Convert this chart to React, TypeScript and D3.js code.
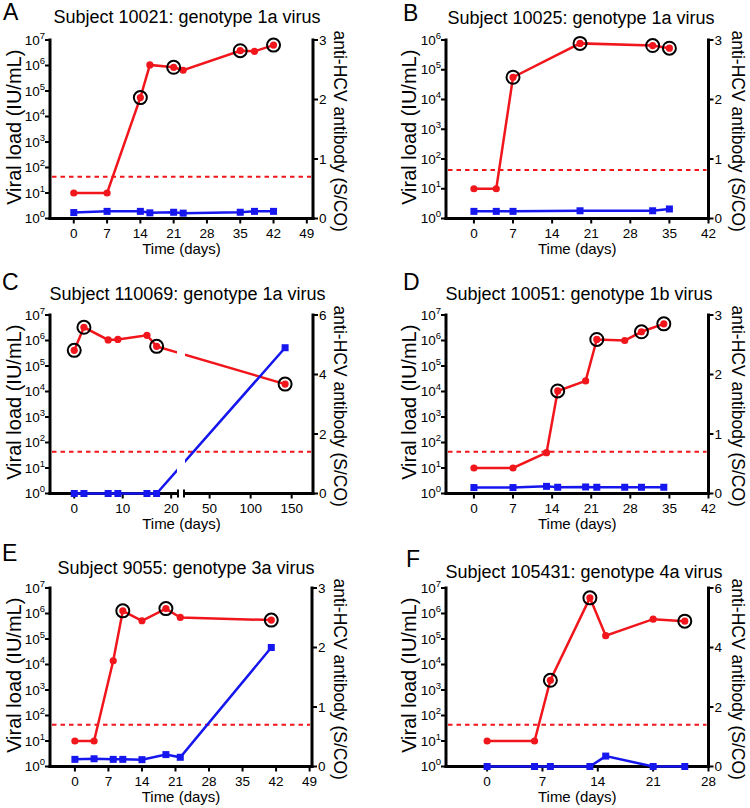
import React, { useEffect, useRef } from 'react';
import * as d3 from 'd3';

// values: days, viral load (IU/mL), anti-HCV (S/CO)
const daysA = [0, 7, 14, 16, 21, 23, 35, 38, 42];
const viralA = [10, 10, 5.5e4, 1.05e6, 8.5e5, 6.5e5, 3.8e6, 3.6e6, 6.3e6];
const circledA = [14, 21, 35, 42];
const antibodyA = [0.1, 0.12, 0.12, 0.095, 0.105, 0.09, 0.105, 0.12, 0.12];

const daysB = [0, 4, 7, 19, 32, 35];
const viralB = [10, 10, 5.6e4, 7.7e5, 6.5e5, 5.3e5];
const circledB = [7, 19, 32, 35];
const antibodyB = [0.12, 0.12, 0.12, 0.13, 0.13, 0.16];

const daysC = [0, 2, 7, 9, 15, 17, 142];
const viralC = [4.1e5, 3.3e6, 1.05e6, 1.1e6, 1.6e6, 5.9e5, 1.95e4];
const circledC = [0, 2, 17, 142];
const antibodyC = [0, 0, 0, 0, 0, 0, 4.9];

const daysD = [0, 7, 13, 15, 20, 22, 27, 30, 34];
const viralD = [10, 10, 40, 1.05e4, 2.6e4, 1.1e6, 1.0e6, 2.2e6, 4.5e6];
const circledD = [15, 22, 30, 34];
const antibodyD = [0.1, 0.1, 0.12, 0.105, 0.11, 0.105, 0.105, 0.105, 0.105];

const daysE = [0, 4, 8, 10, 14, 19, 22, 41];
const viralE = [10, 10, 1.4e4, 1.27e6, 5.2e5, 1.56e6, 7e5, 5.5e5];
const circledE = [10, 19, 41];
const antibodyE = [0.12, 0.13, 0.12, 0.12, 0.115, 0.2, 0.155, 2.0];

const daysF = [0, 6, 8, 13, 15, 21, 25];
const viralF = [10, 10, 2.4e3, 4.1e6, 1.35e5, 6e5, 5e5];
const circledF = [8, 13, 25];
const antibodyF = [0, 0, 0, 0, 0.35, 0, 0];

const xTicks49 = [0, 7, 14, 21, 28, 35, 42, 49];
const xTicks42 = [0, 7, 14, 21, 28, 35, 42];
const xTicks28 = [0, 7, 14, 21, 28];
const xTicksCLeft = [0, 10, 20];
const xTicksCRight = [50, 100, 150];
const abTicks3 = [0, 1, 2, 3];
const abTicks6 = [0, 2, 4, 6];
const detectionLimit = 43;

const FONT = 'Liberation Sans, Arial, Helvetica, sans-serif';
const RED = '#f0161c';
const BLUE = '#1616ee';

interface Segment { domain: [number, number]; range: [number, number]; ticks: number[] }
interface Panel {
  letter: string; title: string;
  segments: Segment[]; top: number; bottom: number;
  vlExpMax: number; abMax: number; abTicks: number[];
  days: number[]; viral: number[]; circled: number[]; antibody: number[];
  letterX: number; letterY: number; titleX: number; titleY: number;
  yLabelX: number; rLabelX: number;
}

const panels: Panel[] = [
  { letter: 'A', title: 'Subject 10021: genotype 1a virus',
    segments: [{ domain: [-5, 50.3], range: [50, 313], ticks: xTicks49 }], top: 40, bottom: 218.5,
    vlExpMax: 7, abMax: 3, abTicks: abTicks3,
    days: daysA, viral: viralA, circled: circledA, antibody: antibodyA,
    letterX: 3, letterY: 20, titleX: 187, titleY: 23, yLabelX: 21, rLabelX: 334 },
  { letter: 'B', title: 'Subject 10025: genotype 1a virus',
    segments: [{ domain: [-5, 42], range: [446, 708.5], ticks: xTicks42 }], top: 40, bottom: 218.5,
    vlExpMax: 6, abMax: 3, abTicks: abTicks3,
    days: daysB, viral: viralB, circled: circledB, antibody: antibodyB,
    letterX: 403, letterY: 21, titleX: 581, titleY: 24, yLabelX: 416, rLabelX: 732 },
  { letter: 'C', title: 'Subject 110069: genotype 1a virus',
    segments: [
      { domain: [-5, 21.2], range: [50, 177], ticks: xTicksCLeft },
      { domain: [20, 176], range: [185, 313], ticks: xTicksCRight },
    ], top: 315, bottom: 493.5,
    vlExpMax: 7, abMax: 6, abTicks: abTicks6,
    days: daysC, viral: viralC, circled: circledC, antibody: antibodyC,
    letterX: 2, letterY: 290, titleX: 187.5, titleY: 300, yLabelX: 21, rLabelX: 334 },
  { letter: 'D', title: 'Subject 10051: genotype 1b virus',
    segments: [{ domain: [-5, 42], range: [446, 708.5], ticks: xTicks42 }], top: 315, bottom: 493.5,
    vlExpMax: 7, abMax: 3, abTicks: abTicks3,
    days: daysD, viral: viralD, circled: circledD, antibody: antibodyD,
    letterX: 403, letterY: 290, titleX: 579, titleY: 299.5, yLabelX: 416, rLabelX: 732 },
  { letter: 'E', title: 'Subject 9055: genotype 3a virus',
    segments: [{ domain: [-5.2, 49.5], range: [50, 312], ticks: xTicks49 }], top: 588, bottom: 766.5,
    vlExpMax: 7, abMax: 3, abTicks: abTicks3,
    days: daysE, viral: viralE, circled: circledE, antibody: antibodyE,
    letterX: 2, letterY: 561, titleX: 186, titleY: 573.5, yLabelX: 21, rLabelX: 334 },
  { letter: 'F', title: 'Subject 105431: genotype 4a virus',
    segments: [{ domain: [-5.2, 28], range: [446, 708.5], ticks: xTicks28 }], top: 588, bottom: 766.5,
    vlExpMax: 7, abMax: 6, abTicks: abTicks6,
    days: daysF, viral: viralF, circled: circledF, antibody: antibodyF,
    letterX: 406, letterY: 567, titleX: 584, titleY: 578, yLabelX: 416, rLabelX: 732 },
];

function drawPanel(svg: d3.Selection<SVGSVGElement, unknown, null, undefined>, p: Panel) {
  const g = svg.append('g').attr('font-family', FONT).attr('fill', '#000');
  const segs = p.segments;
  const xs = segs.map(s => d3.scaleLinear().domain(s.domain).range(s.range));
  const xOf = (d: number) => xs[segs.length > 1 && d > segs[0].domain[1] ? 1 : 0](d);
  const y = d3.scaleLog().domain([1, Math.pow(10, p.vlExpMax)]).range([p.bottom, p.top]);
  const yR = d3.scaleLinear().domain([0, p.abMax]).range([p.bottom, p.top]);
  const left = segs[0].range[0];
  const right = segs[segs.length - 1].range[1];
  const midY = (p.top + p.bottom) / 2;

  // panel letter + title
  g.append('text').attr('x', p.letterX).attr('y', p.letterY).attr('font-size', 23).text(p.letter);
  g.append('text').attr('x', p.titleX).attr('y', p.titleY).attr('text-anchor', 'middle')
    .attr('font-size', 18).text(p.title);

  // axis frame
  const ax = g.append('g').attr('stroke', '#000').attr('stroke-width', 3).attr('stroke-linecap', 'square');
  ax.append('line').attr('x1', left).attr('x2', left).attr('y1', p.top).attr('y2', p.bottom);
  ax.append('line').attr('x1', right).attr('x2', right).attr('y1', p.top).attr('y2', p.bottom);
  segs.forEach(s => {
    ax.append('line').attr('x1', s.range[0]).attr('x2', s.range[1]).attr('y1', p.bottom).attr('y2', p.bottom);
  });
  if (segs.length > 1) {
    [segs[0].range[1] + 1, segs[1].range[0] - 1].forEach(x => {
      ax.append('line').attr('stroke-width', 2).attr('stroke-linecap', 'butt')
        .attr('x1', x).attr('x2', x).attr('y1', p.bottom - 4).attr('y2', p.bottom + 4);
    });
  }

  // left log ticks
  const exps = d3.range(0, p.vlExpMax + 1);
  g.append('g').selectAll('line').data(exps).join('line')
    .attr('stroke', '#000').attr('stroke-width', 2)
    .attr('x1', left - 5).attr('x2', left).attr('y1', e => y(Math.pow(10, e))).attr('y2', e => y(Math.pow(10, e)));
  const ll = g.append('g').selectAll('text').data(exps).join('text')
    .attr('x', left - 5).attr('y', e => y(Math.pow(10, e)) + 4.5)
    .attr('text-anchor', 'end').attr('font-size', 13.5);
  ll.append('tspan').text('10');
  ll.append('tspan').attr('dy', -6).attr('font-size', 9.5).text(e => String(e));

  // right linear ticks
  g.append('g').selectAll('line').data(p.abTicks).join('line')
    .attr('stroke', '#000').attr('stroke-width', 2)
    .attr('x1', right).attr('x2', right + 5).attr('y1', d => yR(d)).attr('y2', d => yR(d));
  g.append('g').selectAll('text').data(p.abTicks).join('text')
    .attr('x', right + 6).attr('y', d => yR(d) + 4.5).attr('font-size', 13.5).text(d => String(d));

  // x ticks
  segs.forEach((s, i) => {
    const sx = xs[i];
    g.append('g').selectAll('line').data(s.ticks).join('line')
      .attr('stroke', '#000').attr('stroke-width', 2)
      .attr('x1', d => sx(d)).attr('x2', d => sx(d)).attr('y1', p.bottom).attr('y2', p.bottom + 5);
    g.append('g').selectAll('text').data(s.ticks).join('text')
      .attr('x', d => sx(d)).attr('y', p.bottom + 19).attr('text-anchor', 'middle')
      .attr('font-size', 13.5).text(d => String(d));
  });

  // axis titles
  g.append('text').attr('x', (left + right) / 2).attr('y', p.bottom + 35)
    .attr('text-anchor', 'middle').attr('font-size', 15).text('Time (days)');
  g.append('text').attr('transform', `translate(${p.yLabelX},${midY - 2}) rotate(-90)`)
    .attr('text-anchor', 'middle').attr('font-size', 20).text('Viral load (IU/mL)');
  g.append('text').attr('transform', `translate(${p.rLabelX},${midY + 2}) rotate(90)`)
    .attr('text-anchor', 'middle').attr('font-size', 17.5).text('anti-HCV antibody (S/CO)');

  // detection limit
  g.append('line').attr('x1', left + 2).attr('x2', right - 2)
    .attr('y1', y(detectionLimit)).attr('y2', y(detectionLimit))
    .attr('stroke', RED).attr('stroke-width', 2).attr('stroke-dasharray', '4.5,4');

  // clip lines to the axis segments (gap for broken axis)
  const clipId = `clip-${p.letter}`;
  const clip = g.append('clipPath').attr('id', clipId);
  segs.forEach(s => {
    clip.append('rect').attr('x', s.range[0]).attr('y', p.top - 30)
      .attr('width', s.range[1] - s.range[0]).attr('height', p.bottom - p.top + 60);
  });

  const redPts: [number, number][] = p.days.map((d, i) => [xOf(d), y(p.viral[i])]);
  const bluePts: [number, number][] = p.days.map((d, i) => [xOf(d), yR(p.antibody[i])]);
  const line = d3.line();

  g.append('path').attr('d', line(redPts)).attr('fill', 'none').attr('stroke', RED)
    .attr('stroke-width', 2.5).attr('clip-path', `url(#${clipId})`);
  g.append('g').selectAll('circle').data(redPts).join('circle')
    .attr('cx', d => d[0]).attr('cy', d => d[1]).attr('r', 3.6).attr('fill', RED);

  g.append('path').attr('d', line(bluePts)).attr('fill', 'none').attr('stroke', BLUE)
    .attr('stroke-width', 2.5).attr('clip-path', `url(#${clipId})`);
  g.append('g').selectAll('rect').data(bluePts).join('rect')
    .attr('x', d => d[0] - 3.5).attr('y', d => d[1] - 3.5).attr('width', 7).attr('height', 7).attr('fill', BLUE);

  const ring = p.circled.map(c => redPts[p.days.indexOf(c)]);
  g.append('g').selectAll('circle').data(ring).join('circle')
    .attr('cx', d => d[0]).attr('cy', d => d[1]).attr('r', 6.5)
    .attr('fill', 'none').attr('stroke', '#000').attr('stroke-width', 2);
}

const App: React.FC = () => {
  const svgRef = useRef<SVGSVGElement>(null);

  useEffect(() => {
    if (!svgRef.current) return;
    const svg = d3.select(svgRef.current);
    svg.selectAll('*').remove();
    panels.forEach(p => drawPanel(svg, p));
  }, []);

  return (
    <svg ref={svgRef} width={750} height={808}
      style={{ position: 'absolute', left: 0, top: 0, background: '#fff' }} />
  );
};

export default App;
